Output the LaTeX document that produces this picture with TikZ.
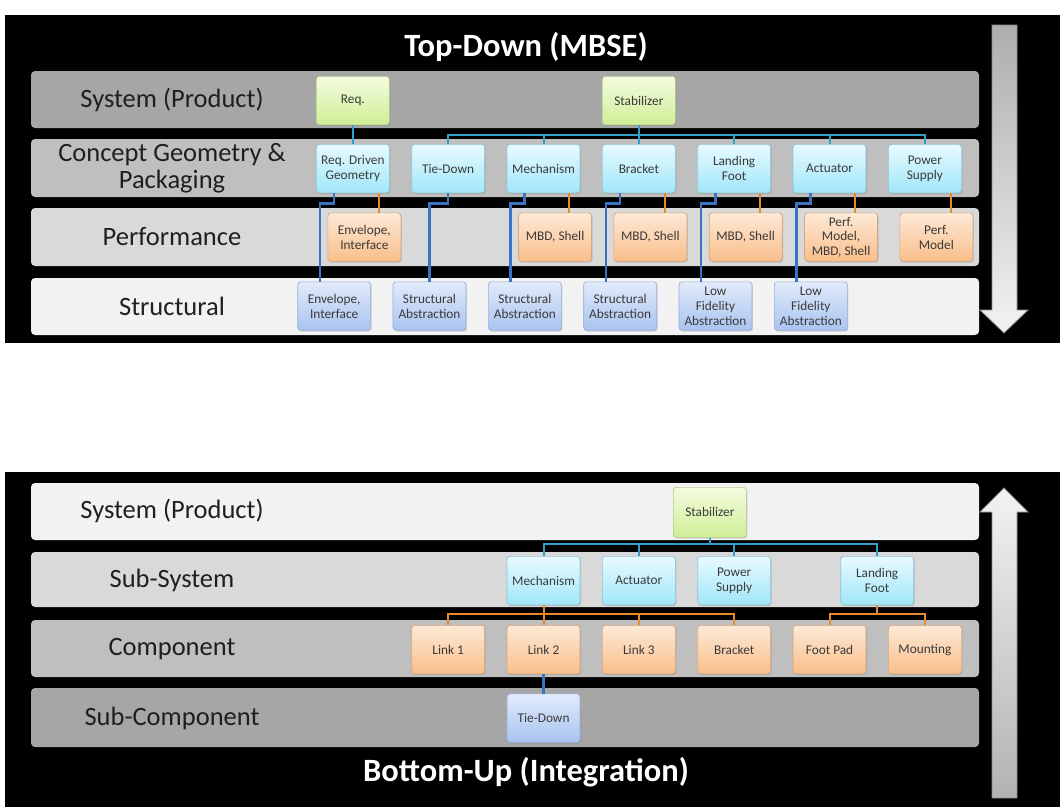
\documentclass[tikz,border=0pt]{standalone}
\usepackage{fontspec}
\setmainfont{Carlito}
\usetikzlibrary{shadows}
\definecolor{bandA}{HTML}{A6A6A6}
\definecolor{bandB}{HTML}{BFBFBF}
\definecolor{bandC}{HTML}{D9D9D9}
\definecolor{bandD}{HTML}{F2F2F2}
\definecolor{gtop}{HTML}{F4FCE0}
\definecolor{gbot}{HTML}{CFEE96}
\definecolor{gedge}{HTML}{B2C98A}
\definecolor{ctop}{HTML}{E8FAFF}
\definecolor{cbot}{HTML}{A0E6F9}
\definecolor{cedge}{HTML}{8CC4D6}
\definecolor{otop}{HTML}{FDE9D6}
\definecolor{obot}{HTML}{F9BE8A}
\definecolor{oedge}{HTML}{D6A67E}
\definecolor{btop}{HTML}{E1EBFA}
\definecolor{bbot}{HTML}{A9C3F0}
\definecolor{bedge}{HTML}{98B0D8}
\definecolor{tealln}{HTML}{31A0C8}
\definecolor{orangeln}{HTML}{E8892E}
\definecolor{blueln}{HTML}{3B72C2}
\definecolor{labtxt}{HTML}{1F1F1F}
\definecolor{boxtxt}{HTML}{3A3A3A}
\tikzset{
  bx/.style={rounded corners=3pt, minimum width=73pt, minimum height=48.5pt, inner sep=1pt,
    align=center, anchor=north west, font=\fontsize{13.3}{14.8}\selectfont, text=boxtxt, line width=0.7pt,
    drop shadow={opacity=0.3, shadow xshift=1pt, shadow yshift=-1.2pt}},
  gbox/.style={bx, top color=gtop, bottom color=gbot, draw=gedge},
  cbox/.style={bx, top color=ctop, bottom color=cbot, draw=cedge},
  obox/.style={bx, top color=otop, bottom color=obot, draw=oedge},
  bbox/.style={bx, top color=btop, bottom color=bbot, draw=bedge},
  rowlab/.style={font=\fontsize{26.5}{27}\selectfont, text=labtxt, align=center},
  ttl/.style={font=\fontsize{32.5}{34}\selectfont\bfseries, text=white},
  tl/.style={draw=tealln, line width=2pt},
  ol/.style={draw=orangeln, line width=2pt},
  bl/.style={draw=blueln, line width=2.6pt},
}
\begin{document}
\begin{tikzpicture}[x=1pt,y=-1pt]
\useasboundingbox (0,0) rectangle (1064,809);
\fill[white] (0,0) rectangle (1064,809);
% ---------------- top panel ----------------
\fill[black] (5,15) rectangle (1060,343);
\node[ttl] (t1) at (526,47) {Top-Down (MBSE)};
\fill[bandA, rounded corners=4pt] (31,71) rectangle (979,128);
\fill[bandB, rounded corners=4pt] (31,139) rectangle (979,197);
\fill[bandC, rounded corners=4pt] (31,208) rectangle (979,266);
\fill[bandD, rounded corners=4pt] (31,278) rectangle (979,335);
\node[rowlab] (la1) at (172,99.5) {System (Product)};
\node[rowlab] (la2) at (172,168) {Concept Geometry \&\\Packaging};
\node[rowlab] (la3) at (172,237) {Performance};
\node[rowlab] (la4) at (172,306.5) {Structural};
% row 1
\node[gbox] (req) at (316,76) {Req.};
\node[gbox] (stab1) at (602,76) {Stabilizer};
% row 2
\node[cbox] (rdg) at (316,144) {Req. Driven\\Geometry};
\node[cbox] (td1) at (411.3,144) {Tie-Down};
\node[cbox] (mech1) at (506.7,144) {Mechanism};
\node[cbox] (brk1) at (602,144) {Bracket};
\node[cbox] (lf1) at (697.3,144) {Landing\\Foot};
\node[cbox] (act1) at (792.7,144) {Actuator};
\node[cbox] (ps1) at (888,144) {Power\\Supply};
% row 3
\node[obox] (p0) at (327.5,212.5) {Envelope,\\Interface};
\node[obox] (p2) at (518.2,212.5) {MBD, Shell};
\node[obox] (p3) at (613.5,212.5) {MBD, Shell};
\node[obox] (p4) at (708.8,212.5) {MBD, Shell};
\node[obox] (p5) at (804.2,212.5) {Perf.\\Model,\\MBD, Shell};
\node[obox] (p6) at (899.5,212.5) {Perf.\\Model};
% row 4
\node[bbox] (s0) at (297.3,281.5) {Envelope,\\Interface};
\node[bbox] (s1) at (392.6,281.5) {Structural\\Abstraction};
\node[bbox] (s2) at (488,281.5) {Structural\\Abstraction};
\node[bbox] (s3) at (583.3,281.5) {Structural\\Abstraction};
\node[bbox] (s4) at (678.6,281.5) {Low\\Fidelity\\Abstraction};
\node[bbox] (s5) at (774,281.5) {Low\\Fidelity\\Abstraction};
\coordinate (busA) at (0,135);
\coordinate (jog) at (0,203.5);
% teal
\draw[tl] (req.south) -- (rdg.north);
\foreach \c in {td1,mech1,brk1,lf1,act1,ps1}{
  \draw[tl] (stab1.south) -- (stab1.south |- busA) -| (\c.north);
}
% orange
\foreach \a/\b in {rdg/p0,mech1/p2,brk1/p3,lf1/p4,act1/p5,ps1/p6}{
  \draw[ol] ([xshift=-11pt]\a.south east) -- ([xshift=-11pt]\a.south east |- \b.north);
}
% blue
\draw[bl] (td1.south) -- (td1.south |- jog) -| (s1.north);
\foreach \a/\b in {rdg/s0,mech1/s2,brk1/s3,lf1/s4,act1/s5}{
  \draw[bl] ([xshift=18pt]\a.south west) -- ([xshift=18pt]\a.south west |- jog) -| ([xshift=22.5pt]\b.north west);
}
% arrow down
\shade[top color=black!32, bottom color=black!5, draw=black!45, line width=0.8pt]
  (992,25) -- (1017,25) -- (1017,310) -- (1028,310) -- (1004,333) -- (980,310) -- (992,310) -- cycle;
% ---------------- bottom panel ----------------
\fill[black] (5,472) rectangle (1060,807);
\fill[bandD, rounded corners=4pt] (31,483) rectangle (979,540);
\fill[bandC, rounded corners=4pt] (31,552) rectangle (979,607);
\fill[bandB, rounded corners=4pt] (31,620) rectangle (979,677);
\fill[bandA, rounded corners=4pt] (31,688) rectangle (979,747);
\node[rowlab] (lb1) at (172,511) {System (Product)};
\node[rowlab] (lb2) at (172,580) {Sub-System};
\node[rowlab] (lb3) at (172,649) {Component};
\node[rowlab] (lb4) at (172,718) {Sub-Component};
\node[ttl] (t2) at (526,772) {Bottom-Up (Integration)};
\node[gbox, minimum height=50pt] (stab2) at (673,487) {Stabilizer};
\node[cbox] (mech2) at (506.7,556) {Mechanism};
\node[cbox] (act2) at (602,556) {Actuator};
\node[cbox] (ps2) at (697.3,556) {Power\\Supply};
\node[cbox] (lf2) at (840.3,556) {Landing\\Foot};
\node[obox] (k1) at (411.3,625) {Link 1};
\node[obox] (k2) at (506.7,625) {Link 2};
\node[obox] (k3) at (602,625) {Link 3};
\node[obox] (brk2) at (697.3,625) {Bracket};
\node[obox] (fp) at (792.7,625) {Foot Pad};
\node[obox] (mnt) at (888,625) {Mounting};
\node[bbox] (td2) at (506.7,693.5) {Tie-Down};
\coordinate (busB) at (0,544);
\coordinate (busC) at (0,614);
\foreach \c in {mech2,act2,ps2,lf2}{
  \draw[tl] (stab2.south) -- (stab2.south |- busB) -| (\c.north);
}
\foreach \c in {k1,k2,k3,brk2}{
  \draw[ol] (mech2.south) -- (mech2.south |- busC) -| (\c.north);
}
\foreach \c in {fp,mnt}{
  \draw[ol] (lf2.south) -- (lf2.south |- busC) -| (\c.north);
}
\draw[bl] (k2.south) -- (td2.north);
% arrow up
\shade[top color=black!5, bottom color=black!30, draw=black!45, line width=0.8pt]
  (1004,488) -- (1028,512) -- (1017,512) -- (1017,798) -- (992,798) -- (992,512) -- (980,512) -- cycle;
\end{tikzpicture}
\end{document}
